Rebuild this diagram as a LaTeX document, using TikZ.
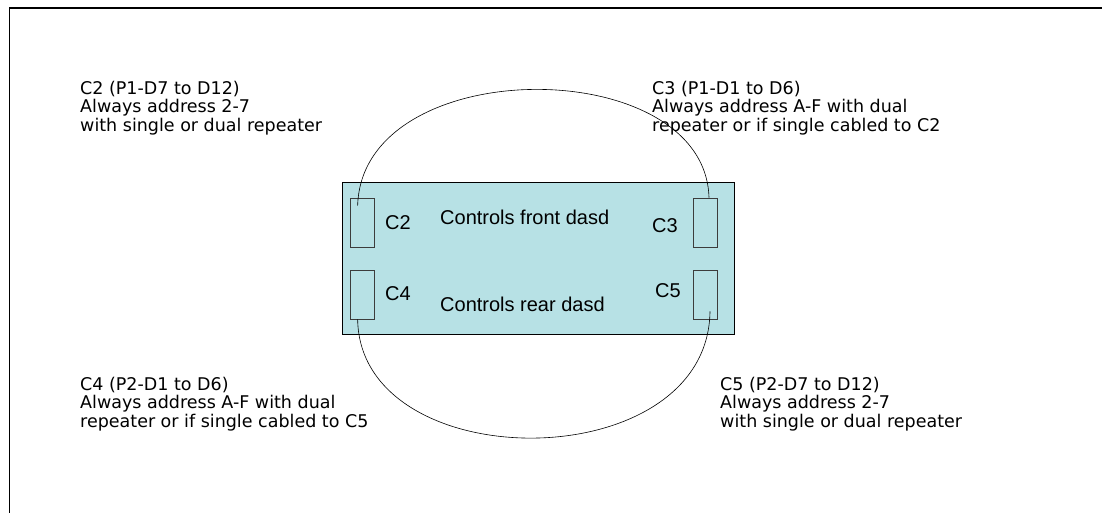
\documentclass[tikz,border=0pt]{standalone}
\usepackage{fontspec}
\setmainfont{DejaVu Sans}
\newfontfamily\arialfont{Liberation Sans}
\usetikzlibrary{calc}
\definecolor{boardfill}{RGB}{183,225,229}
\definecolor{slotline}{RGB}{60,60,60}

\begin{document}
\begin{tikzpicture}[x=1pt,y=-1pt,
    board/.style={draw,fill=boardfill,line width=0.8pt,minimum width=392pt,minimum height=152pt,inner sep=0pt},
    slot/.style={draw=slotline,line width=0.7pt,minimum width=24pt,minimum height=49pt,inner sep=0pt},
    conn/.style={font=\arialfont\fontsize{20}{24}\selectfont,inner sep=0pt,anchor=base west},
    note/.style={font=\fontsize{17.5}{18.5}\selectfont,align=left,inner sep=0pt,anchor=north west},
    cable/.style={line width=0.6pt}]
    \useasboundingbox (0,0) rectangle (1102,513);
    % 边框
    \coordinate (fTL) at (9.3,8);
    \coordinate (fTR) at (1102,8);
    \coordinate (fBL) at (9.3,513);
    \draw[line width=1.3pt] (fTR) -- (fTL) -- (fBL);

    % 背板
    \node[board] (board) at (538,258) {};
    % 插槽
    \node[slot] (s2) at (362,222.5) {};
    \node[slot] (s3) at (705.5,222.5) {};
    \node[slot] (s4) at (362,294.5) {};
    \node[slot] (s5) at (705.5,294.5) {};

    % 电缆
    \coordinate (c2end) at ($(s2.north west)+(8,8)$);
    \coordinate (c3end) at ($(s3.north)+(3.5,0)$);
    \coordinate (c4end) at ($(s4.south west)+(8,0)$);
    \coordinate (c5end) at ($(s5.south)+(4.5,-8)$);
    \draw[cable] (c2end) .. controls (362,52) and (705,52) .. (c3end);
    \draw[cable] (c4end) .. controls (360,479) and (708,479) .. (c5end);

    % 板上文字
    \node[conn] (l2) at (385,229) {C2};
    \node[conn] (lfront) at (440,224) {Controls front dasd};
    \node[conn] (l3) at (652,232) {C3};
    \node[conn] (l4) at (385,300) {C4};
    \node[conn] (lrear) at (440,311) {Controls rear dasd};
    \node[conn] (l5) at (655,297) {C5};

    % 说明
    \node[note] (n2) at (80,81) {C2 (P1-D7 to D12)\\Always address 2-7\\with single or dual repeater};
    \node[note] (n3) at (652,81) {C3 (P1-D1 to D6)\\Always address A-F with dual\\repeater or if single cabled to C2};
    \node[note] (n4) at (80,377) {C4 (P2-D1 to D6)\\Always address A-F with dual\\repeater or if single cabled to C5};
    \node[note] (n5) at (720,377) {C5 (P2-D7 to D12)\\Always address 2-7\\with single or dual repeater};
\end{tikzpicture}
\end{document}
